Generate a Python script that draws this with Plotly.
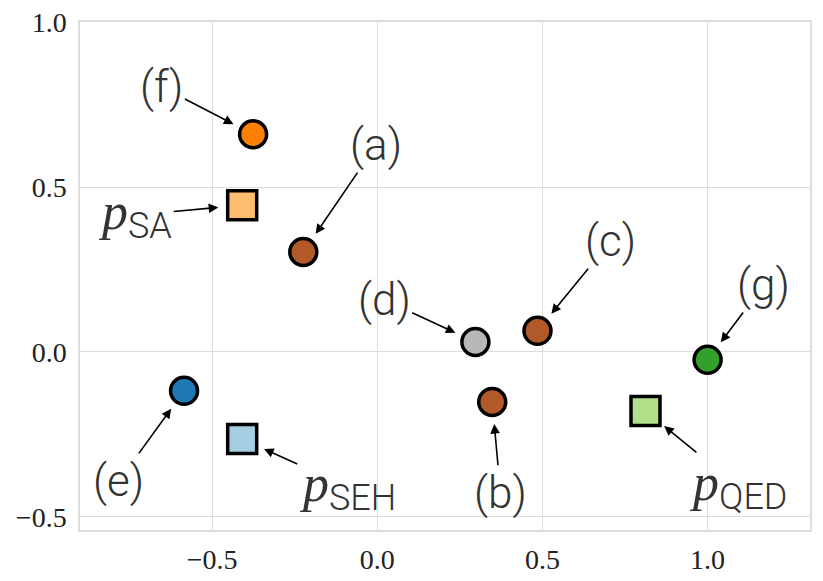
import plotly.graph_objects as go

# points
names = ["(a)", "(b)", "(c)", "(d)", "(e)", "(f)", "(g)"]
xs = [-0.224, 0.348, 0.485, 0.297, -0.585, -0.376, 1.0]
ys = [0.303, -0.152, 0.064, 0.030, -0.118, 0.660, -0.024]
colors = ["#b15928", "#b15928", "#b15928", "#b8b8b8", "#1f78b4", "#ff7f00", "#33a02c"]

# property vectors
p_names = ["SA", "SEH", "QED"]
p_xs = [-0.409, -0.409, 0.812]
p_ys = [0.445, -0.264, -0.179]
p_colors = ["#fdbf6f", "#a6cee3", "#b2df8a"]

# label positions (data coords)
lab_x = [-0.003, 0.373, 0.706, 0.021, -0.782, -0.652, 1.17]
lab_y = [0.627, -0.427, 0.336, 0.158, -0.391, 0.803, 0.203]
p_lab_x = [-0.733, -0.091, 1.091]
p_lab_y = [0.415, -0.409, -0.406]

fig = go.Figure()

fig.add_trace(go.Scatter(
    x=xs, y=ys, mode="markers",
    marker=dict(size=27, color=colors, symbol="circle",
                line=dict(color="black", width=3.5)),
    showlegend=False,
))
fig.add_trace(go.Scatter(
    x=p_xs, y=p_ys, mode="markers",
    marker=dict(size=29, color=p_colors, symbol="square",
                line=dict(color="black", width=3.5)),
    showlegend=False,
))

label_font = dict(family="Roboto", size=44, color="#333333", weight=300)

for n, x, y, lx, ly in zip(names, xs, ys, lab_x, lab_y):
    fig.add_annotation(
        x=x, y=y, ax=lx, ay=ly, axref="x", ayref="y",
        text=n, font=label_font, showarrow=True,
        arrowhead=2, arrowsize=1.2, arrowwidth=1.6, arrowcolor="black",
        standoff=22,
    )

for n, x, y, lx, ly in zip(p_names, p_xs, p_ys, p_lab_x, p_lab_y):
    txt = ('<span style="font-family:Liberation Serif;font-size:52px"><i>p</i></span>'
           '<sub><span style="font-size:36px">' + n + '</span></sub>')
    fig.add_annotation(
        x=x, y=y, ax=lx, ay=ly, axref="x", ayref="y",
        text=txt, font=label_font, showarrow=True,
        arrowhead=2, arrowsize=1.2, arrowwidth=1.6, arrowcolor="black",
        standoff=24,
    )

axis_style = dict(
    showgrid=True, gridcolor="#dddddd", gridwidth=1,
    zeroline=False, showline=True, linecolor="#dddddd", linewidth=1.5, mirror=True,
    ticks="", tickfont=dict(family="Liberation Serif", size=28, color="#222222"),
    dtick=0.5, tickformat=".1f", automargin=False, ticklabeloverflow="allow",
)

# page body has an 8px margin, so the figure is a little smaller than the window
fig.update_layout(
    width=815, height=573,
    margin=dict(l=72, r=13, t=14, b=51),
    plot_bgcolor="white", paper_bgcolor="white",
    xaxis=dict(range=[-0.9, 1.31], tick0=0, ticklabelstandoff=4, **axis_style),
    yaxis=dict(range=[-0.54, 1.0005], tick0=0, ticklabelstandoff=6, **axis_style),
)

fig.write_html("out.html")
